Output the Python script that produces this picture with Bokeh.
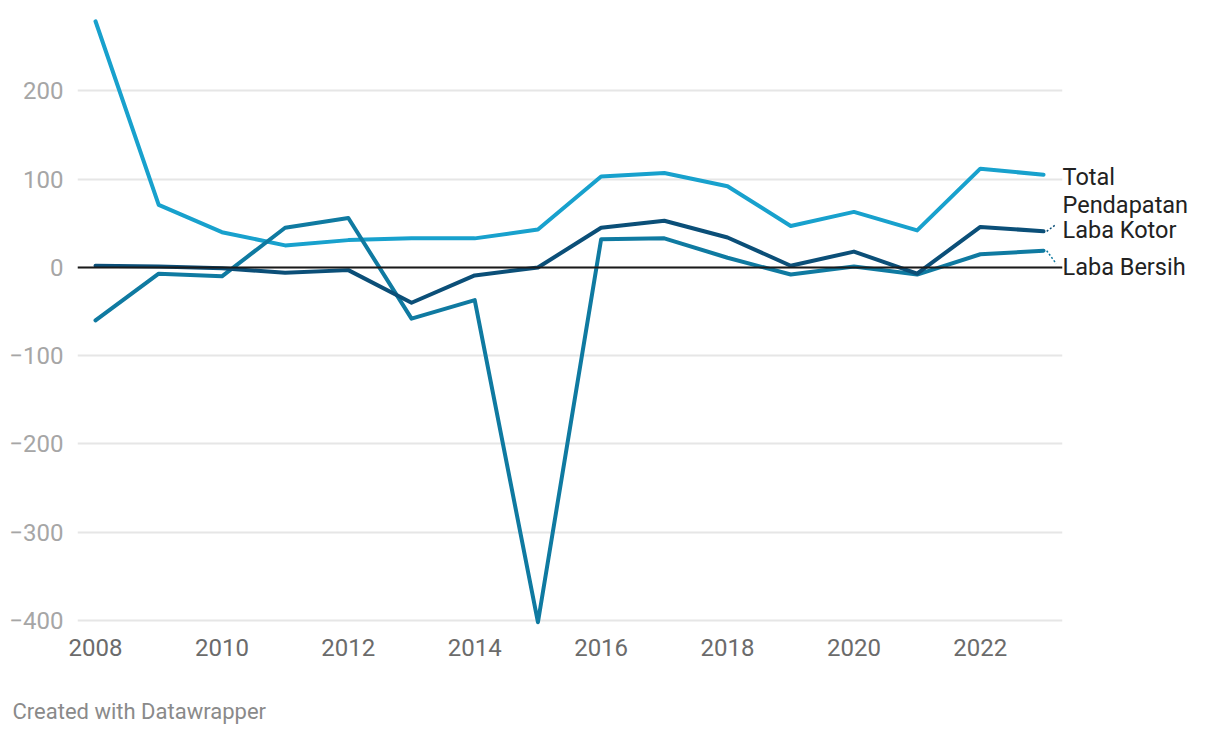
from bokeh.plotting import figure
from bokeh.models import ColumnDataSource, FixedTicker, Span, Title, Range1d, LinearAxis
from bokeh.embed import file_html
from bokeh.resources import INLINE

years = list(range(2008, 2024))
total_pendapatan = [279, 71, 40, 25, 31, 33, 33, 43, 103, 107, 92, 47, 63, 42, 112, 105]
laba_kotor = [2, 1, -1, -6, -3, -40, -9, 0, 45, 53, 34, 2, 18, -7, 46, 41]
laba_bersih = [-60, -7, -10, 45, 56, -58, -37, -402, 32, 33, 11, -8, 1, -8, 15, 19]

series_names = ["Total Pendapatan", "Laba Kotor", "Laba Bersih"]
series_colors = ["#18a1cd", "#0b4f78", "#0f7aa1"]

y_ticks = [-400, -300, -200, -100, 0, 100, 200]
x_ticks = [2008, 2010, 2012, 2014, 2016, 2018, 2020, 2022]

FONT = "Roboto"
PX_PER_UNIT = 0.8825

p = figure(frame_width=985, frame_height=615, output_backend="svg", toolbar_location=None,
           x_range=Range1d(2007.715, 2023.30), y_range=Range1d(-405.7, 291.2),
           min_border_left=77, min_border_right=150, min_border_top=10, min_border_bottom=0)
p.outline_line_color = None
p.background_fill_color = "white"
p.border_fill_color = "white"

# grid
p.xgrid.grid_line_color = None
p.ygrid.grid_line_color = "#e6e6e6"
p.ygrid.grid_line_width = 2
p.yaxis.ticker = FixedTicker(ticks=y_ticks)
p.xaxis.ticker = FixedTicker(ticks=x_ticks)

def style_axis(ax, size="24px"):
    ax.axis_line_color = None
    ax.major_tick_line_color = None
    ax.minor_tick_line_color = None
    ax.major_tick_out = 0
    ax.major_tick_in = 0
    ax.minor_tick_out = 0
    ax.major_label_text_font = FONT
    ax.major_label_text_font_size = size

for ax in (p.xaxis[0], p.yaxis[0]):
    style_axis(ax)

p.yaxis.major_label_text_color = "#a6a6a6"
p.yaxis.major_label_standoff = 14
p.yaxis.major_label_overrides = {t: (("\u2212" + str(abs(t))) if t < 0 else str(t)) for t in y_ticks}
p.xaxis.major_label_text_color = "#6b6b6b"
p.xaxis.major_label_standoff = 13

# zero baseline
p.add_layout(Span(location=0, dimension="width", line_color="#1a1a1a", line_width=2))

all_series = [total_pendapatan, laba_kotor, laba_bersih]
for i in [0, 2, 1]:
    src = ColumnDataSource(dict(x=years, y=all_series[i]))
    p.line("x", "y", source=src, line_color=series_colors[i], line_width=4,
           line_join="round", line_cap="round")

# end labels as a right-hand axis (pixel nudges avoid overlap)
label_parts = [
    (0, "Total", -2),
    (0, "Pendapatan", -30),
    (1, "Laba Kotor", 2),
    (2, "Laba Bersih", -16),
]
lab_ticks, lab_over = [], {}
for i, txt, dy in label_parts:
    t = int(round(all_series[i][-1] + dy / PX_PER_UNIT))
    lab_ticks.append(t)
    lab_over[t] = txt
rax = LinearAxis(ticker=FixedTicker(ticks=lab_ticks), major_label_overrides=lab_over)
style_axis(rax, "23.5px")
rax.major_label_text_color = "#222222"
rax.major_label_standoff = 0
p.add_layout(rax, "right")

# small dotted connectors
for i, off in [(1, -7), (2, 13)]:
    last = all_series[i][-1]
    p.segment(x0=[years[-1] + 0.05], y0=[last], x1=[years[-1] + 0.2], y1=[last - off / PX_PER_UNIT],
              line_color=series_colors[i], line_width=1.5, line_dash="2 2")

p.add_layout(Title(text="Created with Datawrapper", align="left", text_font=FONT,
                   text_font_size="22px", text_font_style="normal", text_color="#8a8a8a",
                   offset=-65, standoff=76), "below")

open("out.html", "w").write(file_html(p, INLINE))
